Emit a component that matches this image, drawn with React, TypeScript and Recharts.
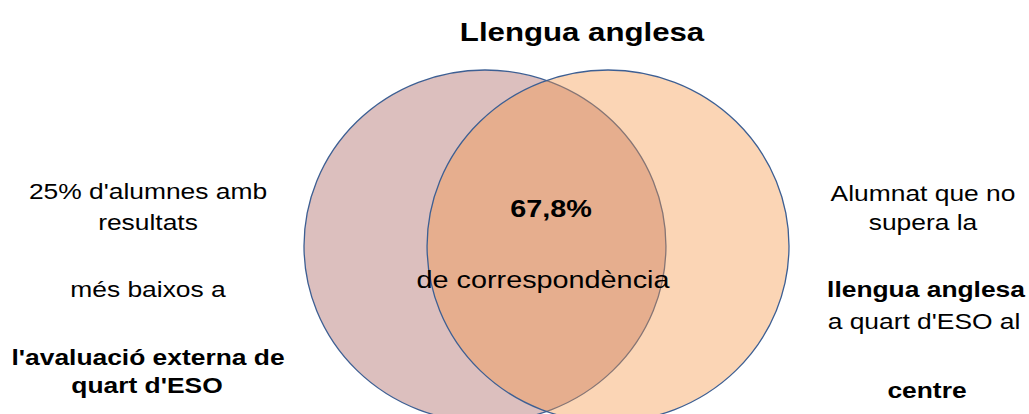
import { ScatterChart, Scatter, XAxis, YAxis } from "recharts";

// data
const title = "Llengua anglesa";
const setNames = [
  "25% d'alumnes amb resultats més baixos a l'avaluació externa de quart d'ESO",
  "Alumnat que no supera la llengua anglesa a quart d'ESO al centre",
];
const setCenters = [-0.34, 0.34]; // circle centres, in radius units
const overlapValue = "67,8%";
const overlapText = "de correspondència";
const leftLines = ["25% d'alumnes amb", "resultats", "més baixos a", "l'avaluació externa de", "quart d'ESO"];
const rightLines = ["Alumnat que no", "supera la", "llengua anglesa", "a quart d'ESO al", "centre"];

// layout / style
const W = 1029;
const H = 414;
const margin = { top: 70, right: 240, bottom: 0, left: 304 };
const xDomain = [-1.34, 1.34];
const yDomain = [-0.955, 1];
const RX = (W - margin.left - margin.right) / (xDomain[1] - xDomain[0]);
const RY = (H - margin.top - margin.bottom) / (yDomain[1] - yDomain[0]);
const FONT = "'Liberation Sans', Arial, sans-serif";
const STRETCH = 1.2;
const fills = ["rgba(167,95,92,0.4)", "rgba(245,150,70,0.4)"];
const STROKE = "#3d5f93";

const leftStyle = { xs: [148, 148, 148, 148, 147], ys: [199, 230, 297, 365, 393], bold: [false, false, false, true, true] };
const rightStyle = { xs: [923, 923, 926, 924, 927], ys: [201, 230, 297, 329, 398], bold: [false, false, true, false, true] };

const Txt = ({ x, y, size, bold, children }: any) => (
  <text
    transform={`translate(${x},${y}) scale(${STRETCH},1)`}
    textAnchor="middle"
    fontFamily={FONT}
    fontSize={size}
    fontWeight={bold ? "bold" : "normal"}
    fill="#000"
  >
    {children}
  </text>
);

const circleShape = (fill: string) => (props: any) => (
  <ellipse cx={props.cx} cy={props.cy} rx={RX} ry={RY} fill={fill} stroke={STROKE} strokeWidth={1.3} />
);

const Labels = () => (
  <svg width={W} height={H} style={{ position: "absolute", left: 0, top: 0, pointerEvents: "none" }}>
    <Txt x={582} y={41} size={26} bold>{title}</Txt>
    <Txt x={551} y={217} size={24} bold>{overlapValue}</Txt>
    <Txt x={543} y={288} size={24}>{overlapText}</Txt>
    {leftLines.map((l, i) => (
      <Txt key={"l" + i} x={leftStyle.xs[i]} y={leftStyle.ys[i]} size={22} bold={leftStyle.bold[i]}>{l}</Txt>
    ))}
    {rightLines.map((l, i) => (
      <Txt key={"r" + i} x={rightStyle.xs[i]} y={rightStyle.ys[i]} size={22} bold={rightStyle.bold[i]}>{l}</Txt>
    ))}
  </svg>
);

const App = () => {
  return (
    <div style={{ position: "absolute", left: 0, top: 0, width: W, height: H, background: "#fff", overflow: "hidden" }}>
      <ScatterChart width={W} height={H} margin={margin}>
        <XAxis type="number" dataKey="x" domain={xDomain} hide />
        <YAxis type="number" dataKey="y" domain={yDomain} hide />
        {setCenters.map((c, i) => (
          <Scatter
            key={i}
            name={setNames[i]}
            data={[{ x: c, y: 0 }]}
            shape={circleShape(fills[i])}
            isAnimationActive={false}
          />
        ))}
      </ScatterChart>
      <Labels />
    </div>
  );
};

export default App;
